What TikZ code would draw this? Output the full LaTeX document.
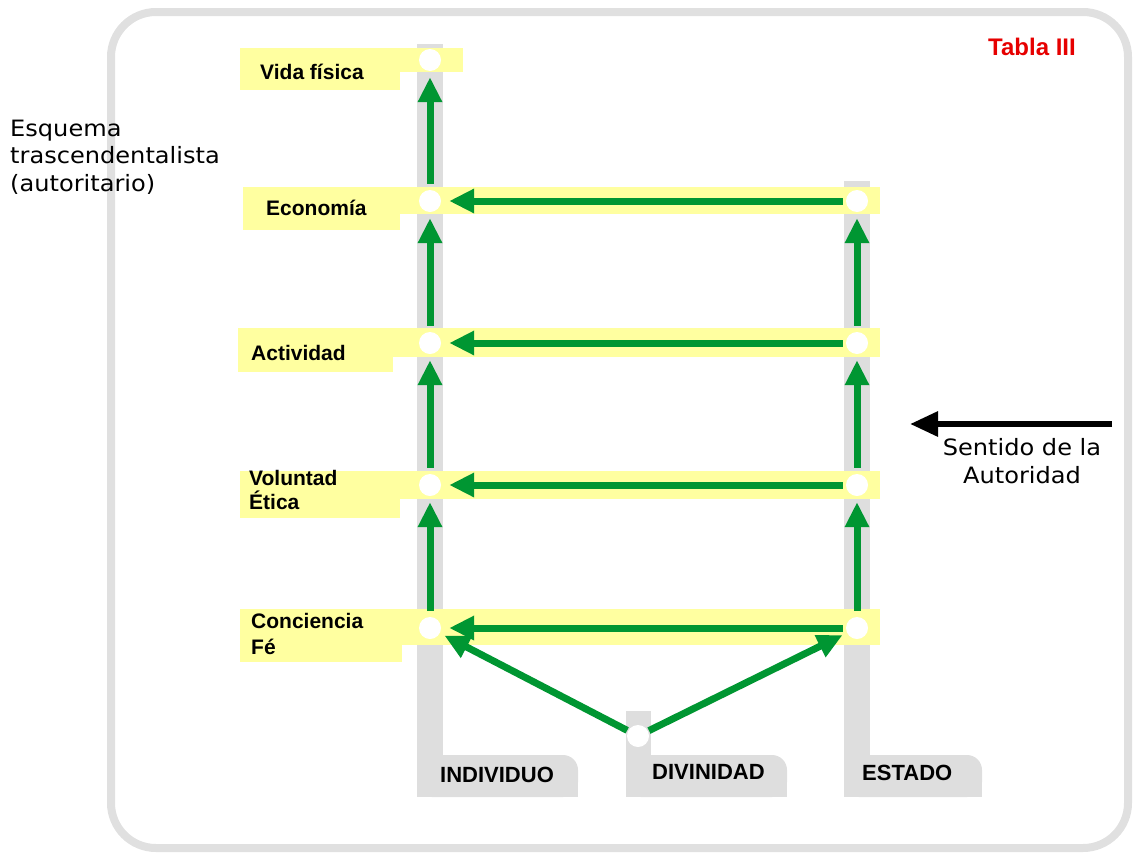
\documentclass[tikz,border=0pt]{standalone}
\usepackage{fontspec}
\setmainfont{DejaVu Sans}
\newfontfamily\notefont[FakeStretch=1.07]{DejaVu Sans}
\newfontfamily\labfont{Liberation Sans}
\usetikzlibrary{arrows.meta}
\definecolor{bargray}{RGB}{222,222,222}
\definecolor{bandyellow}{RGB}{255,255,160}
\definecolor{flowgreen}{RGB}{0,150,50}
\definecolor{framegray}{RGB}{224,224,224}
\definecolor{titlered}{RGB}{230,0,0}
\begin{document}
\begin{tikzpicture}[x=1pt,y=-1pt,
  joint/.style={circle,fill=white,minimum size=22pt,inner sep=0pt},
  flow/.style={draw=flowgreen,line width=7pt,-{Triangle[length=25pt,width=23pt]}},
  lab/.style={anchor=west,inner sep=0pt,align=left,font=\labfont\bfseries\fontsize{21}{24}\selectfont},
  collab/.style={anchor=west,inner sep=0pt,font=\labfont\bfseries\fontsize{22}{24}\selectfont},
  note/.style={inner sep=0pt,font=\notefont\fontsize{22.5}{27.5}\selectfont},
  band/.style={fill=bandyellow},
  bar/.style={fill=bargray}]

\useasboundingbox (0,0) rectangle (1134,854);

% outer frame
\draw[framegray,line width=8pt,rounded corners=45pt] (111,12) rectangle (1128,848);

% column bars with their feet
\fill[bar] (417,44) rectangle (443,797);
\fill[bar,rounded corners=15pt] (417,755) rectangle (578,797);
\fill[bar] (417,775) rectangle (578,797);

\fill[bar] (626,711) rectangle (651,797);
\fill[bar,rounded corners=15pt] (626,755) rectangle (787,797);
\fill[bar] (626,775) rectangle (787,797);

\fill[bar] (844,181) rectangle (870,797);
\fill[bar,rounded corners=15pt] (844,755) rectangle (982,797);
\fill[bar] (844,775) rectangle (982,797);

% level bands
\fill[band] (240,48) rectangle (463,72);
\fill[band] (240,72) rectangle (400,90);
\fill[band] (243,187) rectangle (880,214);
\fill[band] (243,214) rectangle (400,230);
\fill[band] (238,328) rectangle (880,357);
\fill[band] (238,357) rectangle (393,372);
\fill[band] (240,471) rectangle (880,499);
\fill[band] (240,499) rectangle (400,518);
\fill[band] (240,609) rectangle (880,645);
\fill[band] (240,645) rectangle (402,662);

% joints
\node[joint] (i1) at (430,60) {};
\node[joint] (i2) at (430,201) {};
\node[joint] (i3) at (430,343) {};
\node[joint] (i4) at (430,485) {};
\node[joint] (i5) at (430,628) {};
\node[joint] (e2) at (857,201) {};
\node[joint] (e3) at (857,343) {};
\node[joint] (e4) at (857,485) {};
\node[joint] (e5) at (857,628) {};
\node[joint] (d) at (638,736) {};

% upward flows
\foreach \a/\b in {i2/i1,i3/i2,i4/i3,i5/i4,e3/e2,e4/e3,e5/e4}
  \draw[flow,shorten <=6pt,shorten >=6pt] (\a) -- (\b);
% flows from the State to the individual
\foreach \a/\b in {e2/i2,e3/i3,e4/i4,e5/i5}
  \draw[flow,shorten <=3pt,shorten >=8pt] (\a) -- (\b);
% flows from the divinity
\draw[flow,shorten <=1pt,shorten >=5pt] (d) -- (i5);
\draw[flow,shorten <=1pt,shorten >=5pt] (d) -- (e5);

% direction of authority
\coordinate (sa) at (1112,424);
\coordinate (sb) at (910,424);
\draw[line width=6pt,-{Triangle[length=28pt,width=24pt]}] (sa) -- (sb);
\node[note,align=center] (sent) at (1022,461) {Sentido de la\\Autoridad};

% texts
\node[note,anchor=west,align=left] (esq) at (10,157) {Esquema\\trascendentalista\\(autoritario)};
\node[anchor=west,inner sep=0pt,text=titlered,font=\labfont\bfseries\fontsize{24}{26}\selectfont] (tab) at (988,47) {Tabla III};

\node[lab] (vida) at (260,72) {Vida física};
\node[lab] (eco) at (266,208) {Economía};
\node[lab] (act) at (251,353) {Actividad};
\node[lab] (vol) at (249,490) {Voluntad\\Ética};
\node[lab,font=\labfont\bfseries\fontsize{21}{26}\selectfont] (con) at (251,634) {Conciencia\\Fé};

\node[collab] (ind) at (440,775) {INDIVIDUO};
\node[collab] (div) at (652,772) {DIVINIDAD};
\node[collab] (est) at (862,773) {ESTADO};
\end{tikzpicture}
\end{document}
